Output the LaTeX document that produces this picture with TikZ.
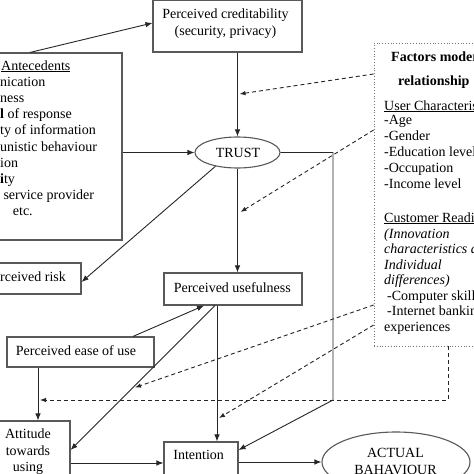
\documentclass[tikz,border=0pt]{standalone}
\usepackage{fontspec}
\setmainfont{Liberation Serif}
\usetikzlibrary{arrows.meta,shapes.geometric}
\begin{document}
\begin{tikzpicture}[x=1pt,y=-1pt,
  box/.style={draw=black!65,line width=1.1pt,inner sep=0pt},
  fbox/.style={draw=black!55,line width=0.8pt,dotted,inner sep=0pt},
  ell/.style={ellipse,draw=black!65,line width=1.1pt,inner sep=0pt},
  txt/.style={inner sep=0pt,font=\fontsize{14}{16}\selectfont},
  arr/.style={draw=black!85,line width=0.9pt,-{Latex[length=7pt,width=5.5pt]}},
  dsh/.style={draw=black!85,line width=0.9pt,dash pattern=on 4pt off 3pt,-{Latex[length=6pt,width=4.5pt]}}]
\useasboundingbox (0,0) rectangle (474,474);
\clip (0,0) rectangle (474,474);
\fill[white] (0,0) rectangle (474,474);

% boxes
\node[box,minimum width=149,minimum height=51.5] (cred) at (227.5,26.25) {};
\node[box,minimum width=132,minimum height=187] (ante) at (56,146.5) {};
\node[box,minimum width=91,minimum height=31] (risk) at (35.5,278.5) {};
\node[box,minimum width=138,minimum height=32] (useful) at (233,289) {};
\node[box,minimum width=147,minimum height=30] (ease) at (80.5,352) {};
\node[box,minimum width=80,minimum height=79] (att) at (30,460.5) {};
\node[box,minimum width=74,minimum height=58] (intent) at (201,471) {};
\node[fbox,minimum width=126,minimum height=303] (fac) at (437,194.5) {};
\node[ell,minimum width=85,minimum height=31] (trust) at (237.5,152.5) {};
\node[ell,minimum width=148,minimum height=60] (actual) at (396,462) {};

% texts
\node[txt,anchor=base] (c1) at (225.5,18) {Perceived creditability};
\node[txt,anchor=base] (c2) at (225.5,35) {(security, privacy)};
\node[txt,anchor=base] (tt) at (238,157.5) {TRUST};
\node[txt,anchor=base west] (r1) at (0,281) {rceived risk};
\node[txt,anchor=base] (u1) at (232.3,292) {Perceived usefulness};
\node[txt,anchor=base] (e1) at (76,355) {Perceived ease of use};
\node[txt,anchor=base] (a1) at (28,438.5) {Attitude};
\node[txt,anchor=base] (a2) at (28,455) {towards};
\node[txt,anchor=base] (a3) at (28,471.5) {using};
\node[txt,anchor=base] (i1) at (198.7,459.5) {Intention};
\node[txt,anchor=base] (b1) at (395.5,457) {ACTUAL};
\node[txt,anchor=base] (b2) at (395.5,474.5) {BAHAVIOUR};

% antecedents
\node[txt,anchor=base west] (n0) at (1,70) {\underline{Antecedents}};
\node[txt,anchor=base west] (n1) at (0,86.2) {nication};
\node[txt,anchor=base west] (n2) at (0,102.4) {ness};
\node[txt,anchor=base west] (n3) at (0,118.6) {\textbf{l} of response};
\node[txt,anchor=base west] (n4) at (0,134.8) {ty of information};
\node[txt,anchor=base west] (n5) at (0,151) {unistic behaviour};
\node[txt,anchor=base west] (n6) at (0,167.2) {ion};
\node[txt,anchor=base west] (n7) at (0,183.4) {\textbf{i}ty};
\node[txt,anchor=base west] (n8) at (3.3,199.6) {service provider};
\node[txt,anchor=base west] (n9) at (12.7,215.8) {etc.};

% factors
\node[txt,anchor=base west] (f0) at (391,61.5) {\textbf{Factors moder}};
\node[txt,anchor=base west] (f1) at (398,85.5) {\textbf{relationship}};
\node[txt,anchor=base west] (f2) at (384,110) {\underline{User Characteris}};
\node[txt,anchor=base west] (f3) at (384,124) {-Age};
\node[txt,anchor=base west] (f4) at (384,140) {-Gender};
\node[txt,anchor=base west] (f5) at (384,156) {-Education level};
\node[txt,anchor=base west] (f6) at (384,172) {-Occupation};
\node[txt,anchor=base west] (f7) at (384,188) {-Income level};
\node[txt,anchor=base west] (f8) at (384,222) {\underline{Customer Readin}};
\node[txt,anchor=base west] (f9) at (384,238) {\itshape (Innovation};
\node[txt,anchor=base west] (f10) at (384,253.5) {\itshape characteristics a};
\node[txt,anchor=base west] (f11) at (384,269) {\itshape Individual};
\node[txt,anchor=base west] (f12) at (384,284.5) {\itshape differences)};
\node[txt,anchor=base west] (f13) at (387,300) {-Computer skill};
\node[txt,anchor=base west] (f14) at (387,315.5) {-Internet banking};
\node[txt,anchor=base west] (f15) at (384,331) {experiences};

% coordinates
\coordinate (bend) at (333,400);
\coordinate (bend2) at (448,400);
\coordinate (m1) at (239.5,94);
\coordinate (m2) at (240.5,212);
\coordinate (m3) at (135,387.5);
\coordinate (m4) at (219,418);
\coordinate (m5) at (40,400);

% solid connectors
\draw[arr] (ante.north -| 30,0) -- (cred.west |- 0,23);
\draw[arr] (ante.east |- trust.west) -- (trust.west);
\draw[arr] (cred.south -| trust.north) -- (trust.north);
\draw[arr] (trust.south) -- (useful.north -| trust.south);
\draw[arr] (trust.212) -- (risk.east |- 0,282);
\draw[arr] (trust.east) -- (trust.east -| bend) -- (bend) -- (intent.east |- 0,450);
\draw[arr] (ease.north -| 133,0) -- (useful.south -| 204,0);
\draw[arr] (useful.south -| 215,0) -- (att.east |- 0,450);
\draw[arr] (useful.south -| 217,0) -- (intent.north -| 217,0);
\draw[arr] (ease.south -| 38,0) -- (att.north -| 38,0);
\draw[arr] (att.east |- 0,463) -- (intent.west |- 0,463);
\draw[arr] (intent.east |- actual.west) -- (actual.west);

% dashed connectors
\draw[dsh] (fac.west |- 0,74) -- (m1);
\draw[dsh] (fac.west |- 0,130) -- (m2);
\draw[dsh] (fac.west |- 0,305) -- (m3);
\draw[dsh] (fac.west |- 0,325) -- (m4);
\draw[dsh] (fac.south -| bend2) -- (bend2) -- (m5);
\end{tikzpicture}
\end{document}
